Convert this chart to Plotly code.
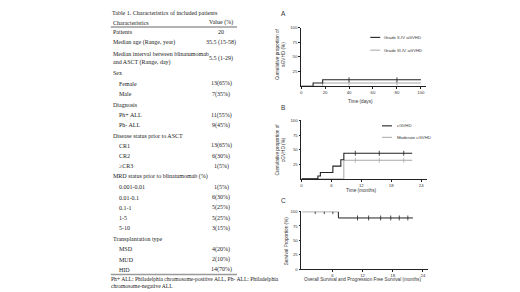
import plotly.graph_objects as go

W, H = 520, 292

# ---------------- data ----------------
table_title = "Table 1. Characteristics of included patients"
header = ["Characteristics", "Value (%)"]
row_labels = ["Patients", "Median age (Range, year)",
              "Median interval between blinatumomab<br>and ASCT (Range, day)",
              "Sex", "Female", "Male", "Diagnosis", "Ph+ ALL", "Ph- ALL",
              "Disease status prior to ASCT", "CR1", "CR2", "\u2265CR3",
              "MRD status prior to blinatumomab (%)", "0.001-0.01", "0.01-0.1",
              "0.1-1", "1-5", "5-10", "Transplantation type", "MSD", "MUD", "HID"]
row_values = ["20", "35.5 (15-58)", "5.5 (1-29)", "", "13(65%)", "7(35%)", "",
              "11(55%)", "9(45%)", "", "13(65%)", "6(30%)", "1(5%)", "",
              "1(5%)", "6(30%)", "5(25%)", "5(25%)", "3(15%)", "",
              "4(20%)", "2(10%)", "14(70%)"]
row_indent = [0, 0, 0, 0, 1, 1, 0, 1, 1, 0, 1, 1, 1, 0, 1, 1, 1, 1, 1, 0, 1, 1, 1]
footnote = "Ph+ ALL: Philadelphia chromosome-positive ALL, Ph- ALL: Philadelphia<br>chromosome-negative ALL"

# Panel A: aGVHD (days)
a_days_2_4 = [0, 10, 18, 100]
a_val_2_4 = [0, 5.5, 11, 11]
a_days_3_4 = [0, 18, 100]
a_val_3_4 = [0, 5.5, 5.5]
a_cens_days = [40, 80]
a_xticks = [0, 20, 40, 60, 80, 100]
a_yticks = [25, 50, 75, 100]

# Panel B: cGVHD (months)
b_months_c = [0, 3.3, 3.8, 6.3, 7.9, 8.5, 22.2]
b_val_c = [0, 5, 11, 22, 33, 44, 44]
b_months_m = [0, 8.5, 22.2]
b_val_m = [0, 32, 32]
b_cens_months = [10.8, 15.6, 20.5]
b_xticks = [0, 6, 12, 18, 24]
b_yticks = [25, 50, 75, 100]

# Panel C: survival (months)
c_months = [0, 7.2, 22]
c_val = [100, 89, 89]
c_cens_hi = [2.6, 4.4, 6.1]
c_cens_lo = [11, 13.2, 15.6, 17.6, 19.3, 21]
c_xticks = [6, 12, 18, 24]
c_yticks = [0, 25, 50, 75, 100]

# ---------------- helpers ----------------
def px(x):
    return x / W

def py(y):
    return 1 - y / H

SERIF = "Liberation Serif"
SANS = "Liberation Sans"
DARK = "#222222"
GREY = "#a8a8a8"

fig = go.Figure()

def step(x, y, axis, color, width):
    fig.add_trace(go.Scatter(x=x, y=y, mode="lines", line=dict(color=color, width=width, shape="hv"),
                             xaxis="x" + axis, yaxis="y" + axis, showlegend=False, hoverinfo="skip"))

def cens(x, level, axis, color):
    fig.add_trace(go.Scatter(x=x, y=[level] * len(x), mode="markers",
                             marker=dict(symbol="line-ns", size=3.5, line=dict(color=color, width=0.8)),
                             xaxis="x" + axis, yaxis="y" + axis, showlegend=False, hoverinfo="skip"))

# Panel A
step(a_days_3_4, a_val_3_4, "", GREY, 1.0)
step(a_days_2_4, a_val_2_4, "", DARK, 1.1)
cens(a_cens_days, a_val_3_4[-1], "", GREY)
cens(a_cens_days, a_val_2_4[-1], "", DARK)
# Panel B
step(b_months_m, b_val_m, "2", GREY, 1.0)
step(b_months_c, b_val_c, "2", DARK, 1.1)
cens(b_cens_months, b_val_m[-1], "2", GREY)
cens(b_cens_months, b_val_c[-1], "2", DARK)
# Panel C
step(c_months, c_val, "3", DARK, 1.0)
cens(c_cens_hi, c_val[0], "3", DARK)
cens(c_cens_lo, c_val[-1], "3", DARK)

axis_common = dict(showline=True, linecolor="#222", linewidth=0.8, ticks="outside", ticklen=2,
                   tickwidth=0.8, tickcolor="#222", showgrid=False, zeroline=False,
                   tickfont=dict(family=SANS, size=4.3, color="#333"))

fig.update_layout(
    width=W, height=H, margin=dict(l=0, r=0, t=0, b=0),
    paper_bgcolor="white", plot_bgcolor="white", showlegend=False,
    xaxis=dict(domain=[px(300.7), px(426)], range=[0, 104.4], tickvals=a_xticks, anchor="y", **axis_common),
    yaxis=dict(domain=[py(85.7), py(26)], range=[0, 100], tickvals=a_yticks, anchor="x", **axis_common),
    xaxis2=dict(domain=[px(301), px(426.7)], range=[0, 25.14], tickvals=b_xticks, anchor="y2", **axis_common),
    yaxis2=dict(domain=[py(180), py(120.7)], range=[0, 100], tickvals=b_yticks, anchor="x2", **axis_common),
    xaxis3=dict(domain=[px(301), px(428.3)], range=[-0.15, 25.1], tickvals=c_xticks, anchor="y3", **axis_common),
    yaxis3=dict(domain=[py(271.7), py(213.3)], range=[0, 100], tickvals=c_yticks, anchor="x3", **axis_common),
)

ann = []
shapes = []

def text(x, y, s, size, family=SERIF, xanchor="left", angle=0, color="#222", yanchor="middle", align="left"):
    ann.append(dict(x=px(x), y=py(y), xref="paper", yref="paper", text=s, showarrow=False,
                    xanchor=xanchor, yanchor=yanchor, textangle=angle, align=align, borderpad=0,
                    font=dict(family=family, size=size, color=color)))

def hline(x0, x1, y, color, width):
    shapes.append(dict(type="line", xref="paper", yref="paper", x0=px(x0), x1=px(x1),
                       y0=py(y), y1=py(y), line=dict(color=color, width=width)))

# ---------------- table ----------------
text(110, 11, table_title, 6)
text(111.5, 21, header[0], 6)
text(220.5, 21, header[1], 6, xanchor="center")
hline(110, 236.5, 25.5, "#9a9a9a", 1.6)
row_y = [30.7, 41.3, 57.3, 72.7, 83.3, 94, 104.3, 115, 125.3, 136, 146.5, 156.7, 167.3,
         177.7, 188.3, 199, 209.3, 220, 230, 241, 251.7, 262.3, 272.3]
for lab, val, ind, y in zip(row_labels, row_values, row_indent, row_y):
    text(111.5 + 5.5 * ind, y, lab, 6, align="left")
    if val:
        text(220.5, y, val, 6, xanchor="center")
hline(110, 236.5, 277.3, "#9a9a9a", 1.6)
text(109, 278.2, footnote, 5.6, align="left", yanchor="top")

# ---------------- chart texts ----------------
text(283, 12, "A", 6.5, family=SANS, xanchor="center", color="#333")
text(283, 107, "B", 6.5, family=SANS, xanchor="center", color="#333")
text(283, 202, "C", 6.5, family=SANS, xanchor="center", color="#333")

text(360, 101, "Time (days)", 4.7, family=SANS, xanchor="center", color="#333")
text(361, 191.7, "Time (months)", 4.7, family=SANS, xanchor="center", color="#333")
text(362, 282, "Overall Survival and Progression Free Survival (months)", 4.7, family=SANS,
     xanchor="center", color="#333")
text(279.5, 53, "Cumulative proportion of<br>aGVHD (%)", 4.7, family=SANS, xanchor="center",
     angle=-90, color="#333", align="center")
text(279.5, 150, "Cumulative proportion of<br>cGVHD (%)", 4.7, family=SANS, xanchor="center",
     angle=-90, color="#333", align="center")
text(286, 243, "Survival Proportion (%)", 4.7, family=SANS, xanchor="center", angle=-90, color="#333")

# legends
hline(370, 380, 36, DARK, 1.1)
text(383, 36, "Grade II-IV aGVHD", 4.3, family=SANS, color="#333")
hline(370, 380, 49, GREY, 1.0)
text(383, 49, "Grade III-IV aGVHD", 4.3, family=SANS, color="#333")
hline(381.7, 391.7, 126, DARK, 1.1)
text(396, 126, "cGVHD", 4.3, family=SANS, color="#333")
hline(381.7, 391.7, 137.7, GREY, 1.0)
text(396, 137.7, "Moderate cGVHD", 4.3, family=SANS, color="#333")

fig.update_layout(annotations=ann, shapes=shapes)
fig.write_html("out.html", config={"displayModeBar": False},
               post_script="document.body.style.margin='0';")
